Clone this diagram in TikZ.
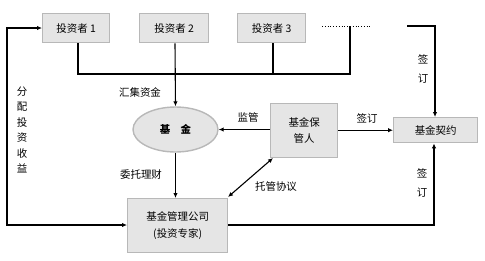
\documentclass[tikz,border=0pt]{standalone}
\usepackage{fontspec}
\setmainfont{Noto Sans CJK SC}
\usetikzlibrary{arrows.meta,shapes.geometric}
\begin{document}
\begin{tikzpicture}[x=1bp,y=-1bp,
  font=\fontsize{10.5}{12.5}\selectfont,
  box/.style={draw=black!28,line width=1.4bp,fill=black!10,inner sep=0pt,anchor=north west},
  conn/.style={line width=1.1bp,-{Latex[length=5bp,width=4.5bp]}},
  dconn/.style={line width=1.1bp,{Latex[length=5bp,width=4.5bp]}-{Latex[length=5bp,width=4.5bp]}},
  plain/.style={line width=1.1bp},
  lbl/.style={inner sep=0pt}]
\useasboundingbox (0,0) rectangle (485,260);
% investors
\node[box,minimum width=67bp,minimum height=29bp] (i1) at (42,13) {投资者 1};
\node[box,minimum width=69bp,minimum height=29bp] (i2) at (139,13) {投资者 2};
\node[box,minimum width=68bp,minimum height=29bp] (i3) at (237,13) {投资者 3};
\coordinate (d1) at (322,26);
\coordinate (d2) at (372,26);
\draw[line width=0.8bp,dotted] (d1) -- (d2);
% fund
\node[draw=black!28,line width=1.4bp,fill=black!10,ellipse,minimum width=85bp,minimum height=45bp,inner sep=0pt] (fund) at (175.5,129.5) {\textbf{基\quad 金}};
% custodian
\node[box,minimum width=67bp,minimum height=54bp,align=center] (cust) at (270,103) {基金保\\[4bp]管人};
% contract
\node[box,minimum width=84bp,minimum height=25bp] (contract) at (393,117) {基金契约};
% manager
\node[box,minimum width=100bp,minimum height=54bp,align=center] (mgr) at (127,198) {基金管理公司\\[5bp](投资专家)};
% collecting lines
\coordinate (h1) at (78,74);
\coordinate (h2) at (175,74);
\coordinate (h3) at (273,74);
\coordinate (h4) at (350,74);
\draw[plain] (i1.south -| h1) -- (h1) -- (h4) -- (h4 |- d1);
\draw[plain] (i3.south -| h3) -- (h3);
\draw[conn] (i2.south -| h2) -- (fund.north);
\node[lbl] (l1) at (140,92) {汇集资金};
% fund to manager
\draw[conn] (fund.south) -- (mgr.north -| fund.south);
\node[lbl] (l2) at (141,175) {委托理财};
% custodian to fund
\draw[conn] (cust.west |- fund.east) -- (fund.east);
\node[lbl] (l3) at (248,118) {监管};
% custodian to contract
\draw[conn] (cust.east |- contract.west) -- (contract.west);
\node[lbl] (l4) at (367,118) {签订};
% double arrow
\coordinate (m1) at (228,197);
\coordinate (c1) at (273,158);
\draw[dconn] (m1) -- (c1);
\node[lbl] (l5) at (276,187) {托管协议};
% top right
\coordinate (tr1) at (407,26);
\coordinate (tr2) at (435,26);
\draw[conn] (tr1) -- (tr2) -- (tr2 |- contract.north);
\node[lbl,align=center] (l6) at (423,69) {签\\[6bp]订};
% bottom right
\coordinate (br) at (434,225);
\draw[conn] (mgr.east |- br) -- (br) -- (br |- contract.south);
\node[lbl,align=center] (l7) at (422,183) {签\\[6bp]订};
% left loop
\coordinate (lb) at (7,225);
\coordinate (lt) at (7,28);
\draw[dconn] (mgr.west |- lb) -- (lb) -- (lt) -- (lt -| i1.west);
\node[lbl,align=center] (l8) at (22,130) {分\\[3bp]配\\[3bp]投\\[3bp]资\\[3bp]收\\[3bp]益};
\end{tikzpicture}
\end{document}
